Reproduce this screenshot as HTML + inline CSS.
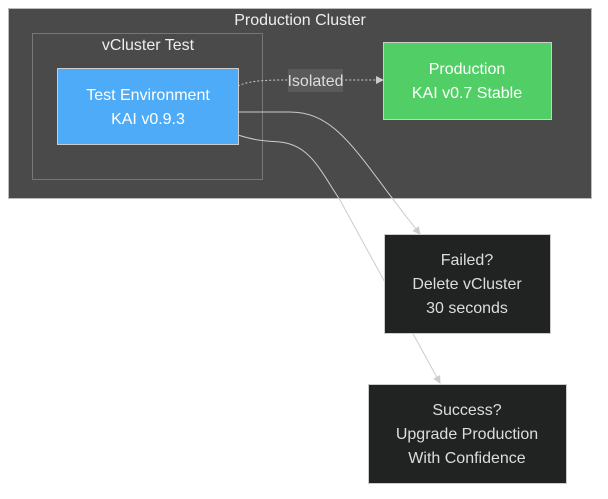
<!DOCTYPE html>
<html><head><style>body{margin:0;background:#fff}svg{display:block}text{font-family:"Liberation Sans",sans-serif}</style></head><body>
<svg width="608" height="499" viewBox="0 0 608 499">
<defs><marker id="a" markerWidth="8" markerHeight="8" refX="7" refY="4" orient="auto" markerUnits="userSpaceOnUse"><path d="M0,0L8,4L0,8z" fill="#ccc"/></marker></defs>
<rect x="8.5" y="8.5" width="583" height="190" fill="#494a49" stroke="#bbb" stroke-width="1"/>
<text x="300" y="25" fill="#eee" font-size="16" text-anchor="middle">Production Cluster</text>
<rect x="32.5" y="33.5" width="230" height="146" fill="none" stroke="#777"/>
<text x="148" y="50" fill="#eee" font-size="16" text-anchor="middle">vCluster Test</text>
<path d="M238,112 L290,112 C340,112 360,160 420,234" fill="none" stroke="#ccc" marker-end="url(#a)"/>
<path d="M238,135 C260,142 270,141 280,142 C310,145 320,170 340,200 L440,383" fill="none" stroke="#ccc" marker-end="url(#a)"/>
<path d="M238,86 C250,80 270,80 290,80 L383,80" fill="none" stroke="#ccc" stroke-dasharray="2,2" marker-end="url(#a)"/>
<rect x="288" y="69" width="55" height="23" fill="#5a5a5a"/>
<text x="315.5" y="86" fill="#ddd" font-size="16" text-anchor="middle">Isolated</text>
<rect x="57.5" y="68.5" width="181" height="76" fill="#4dabf7" stroke="#ccc"/>
<text x="148" y="100" fill="#fff" font-size="16" text-anchor="middle">Test Environment</text>
<text x="148" y="124" fill="#fff" font-size="16" text-anchor="middle">KAI v0.9.3</text>
<rect x="383.5" y="42.5" width="168" height="77" fill="#51cf66" stroke="#ccc"/>
<text x="467" y="74" fill="#fff" font-size="16" text-anchor="middle">Production</text>
<text x="467" y="98" fill="#fff" font-size="16" text-anchor="middle">KAI v0.7 Stable</text>
<rect x="384.5" y="234.5" width="166" height="99" fill="#212322" stroke="#ccc"/>
<text x="467" y="265" fill="#ddd" font-size="16" text-anchor="middle">Failed?</text>
<text x="467" y="289" fill="#ddd" font-size="16" text-anchor="middle">Delete vCluster</text>
<text x="467" y="313" fill="#ddd" font-size="16" text-anchor="middle">30 seconds</text>
<rect x="368.5" y="384.5" width="198" height="99" fill="#212322" stroke="#ccc"/>
<text x="467" y="415" fill="#ddd" font-size="16" text-anchor="middle">Success?</text>
<text x="467" y="439" fill="#ddd" font-size="16" text-anchor="middle">Upgrade Production</text>
<text x="467" y="463" fill="#ddd" font-size="16" text-anchor="middle">With Confidence</text>
</svg>
</body></html>
